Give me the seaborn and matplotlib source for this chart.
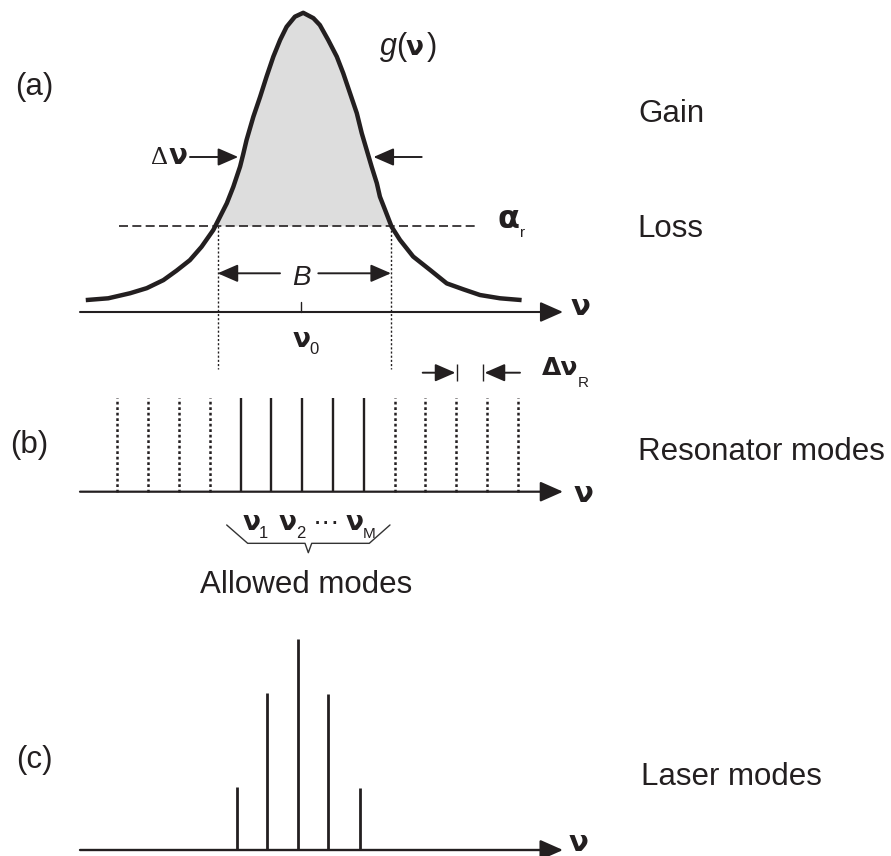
import numpy as np
import pandas as pd
import matplotlib
matplotlib.use("Agg")
import matplotlib.pyplot as plt
import seaborn as sns

# ---------------- data ----------------
# gain curve g(nu): frequency offset in units of the mode spacing, relative gain
gain_nu = [-7.03, -6.30, -5.59, -5.05, -4.51, -4.08, -3.65, -3.27, -2.89, -2.67,
           -2.45, -2.24, -2.02, -1.92, -1.81, -1.59, -1.37, -1.16, -0.94, -0.72,
           -0.51, -0.24, 0.03, 0.36, 0.57, 0.84, 1.12, 1.33, 1.55, 1.77,
           1.93, 2.09, 2.25, 2.42, 2.52, 2.69, 2.90, 3.17, 3.60, 4.15,
           4.69, 5.23, 5.77, 6.42, 7.12]
gain_g = [0.040, 0.046, 0.063, 0.080, 0.107, 0.139, 0.174, 0.219, 0.275, 0.320,
          0.365, 0.420, 0.488, 0.529, 0.577, 0.655, 0.722, 0.790, 0.857, 0.913,
          0.957, 0.991, 1.004, 0.986, 0.963, 0.913, 0.857, 0.801, 0.734, 0.667,
          0.600, 0.544, 0.488, 0.432, 0.387, 0.342, 0.286, 0.242, 0.186, 0.141,
          0.096, 0.076, 0.057, 0.046, 0.040]
loss_level = 0.289                      # alpha_r
band_edges = [-2.75, 2.88]              # B (gain above loss)
fwhm_edges = [-2.08, 2.31]              # delta nu
center_nu = -0.05                       # nu_0

# resonator modes (index in units of mode spacing)
mode_index = [-6, -5, -4, -3, -2, -1, 0, 1, 2, 3, 4, 5, 6, 7]
allowed_index = [-2, -1, 0, 1, 2]
mode_height = 1.0
spacing_marks = [5.01, 5.88]            # delta nu_R markers

# laser modes
laser_nu = [-2.13, -1.14, -0.13, 0.84, 1.87]
laser_power = [0.300, 0.744, 1.000, 0.739, 0.294]

# ---------------- layout helpers ----------------
W, H = 891, 856
K = "#231f20"
sns.set_theme(style="white")
plt.rcParams["font.family"] = ["Liberation Sans", "DejaVu Sans"]

fig = plt.figure(figsize=(W / 100, H / 100), dpi=100)
fig.patch.set_facecolor("white")

X0, XS = 302.3, 30.8
def nx(px):  # pixel column -> frequency units
    return (px - X0) / XS

def band(top, bot):
    ax = fig.add_axes([0, 1 - bot / H, 1, (bot - top) / H])
    ax.set_facecolor("none")
    ax.set_xlim(nx(0), nx(W))
    ax.set_axis_off()
    return ax

axa = band(0, 400)
axb = band(330, 620)
axc = band(620, 856)
ga = lambda py: (312 - py) / 298.0
hb = lambda py: (491.7 - py) / 93.7
ic = lambda py: (850 - py) / 211.0
axa.set_ylim(ga(400), ga(0))
axb.set_ylim(hb(620), hb(330))
axc.set_ylim(ic(856), ic(620))

def arrow(ax, x0, y0, x1, y1, lw=1.4, hl=0.62, hw=0.27):
    ax.annotate("", xy=(x1, y1), xytext=(x0, y0), xycoords="data",
                arrowprops=dict(arrowstyle=f"-|>,head_length={hl},head_width={hw}",
                                mutation_scale=20, lw=lw, color=K,
                                shrinkA=0, shrinkB=0),
                annotation_clip=False)

def ftext(x, y, s, size=22.5, ha="left", va="baseline", **kw):
    kw.setdefault("color", K)
    fig.text(x / W, 1 - y / H, s, fontsize=size, ha=ha, va=va, **kw)

NU = dict(family=["DejaVu Sans"], fontweight="bold")

# ---------------- panel (a) ----------------
g = np.array(gain_g)
axa.fill_between(gain_nu, gain_g, loss_level, where=g > loss_level,
                 interpolate=True, color="#dddddd", lw=0, zorder=1)
sns.lineplot(x=gain_nu, y=gain_g, ax=axa, color=K, lw=3.2, sort=False,
             estimator=None, legend=False, zorder=3,
             solid_joinstyle="round", solid_capstyle="butt")
axa.set_axis_off()
axa.plot([nx(119), nx(478)], [loss_level, loss_level], color=K, lw=1.2,
         ls=(0, (5.4, 2.6)), zorder=2)
for e in band_edges:
    axa.plot([e, e], [loss_level, ga(369)], color=K, lw=1.0,
             ls=(0, (1.5, 1.5)), clip_on=False, zorder=2)
axa.plot([center_nu, center_nu], [0, ga(302)], color=K, lw=1.0)
arrow(axa, nx(80), 0, nx(563), 0, lw=1.5, hl=0.7, hw=0.31)
# B arrows
arrow(axa, nx(280), ga(273.3), band_edges[0], ga(273.3))
arrow(axa, nx(318.3), ga(273.3), band_edges[1], ga(273.3))
# delta-nu arrows
arrow(axa, nx(190), ga(157), fwhm_edges[0], ga(157))
arrow(axa, nx(421.7), ga(157), fwhm_edges[1], ga(157))

# ---------------- panel (b) ----------------
allowed = [k for k in mode_index if k in allowed_index]
others = [k for k in mode_index if k not in allowed_index]
axb.vlines(allowed, 0, mode_height, color=K, lw=1.7)
axb.vlines(others, 0, mode_height, color=K, lw=1.8, linestyles=(0, (1.1, 1.1)))
arrow(axb, nx(80), 0, nx(563), 0, lw=1.6, hl=0.7, hw=0.31)
# mode spacing marker
arrow(axb, nx(422.7), hb(372.7), spacing_marks[0] - 0.04, hb(372.7))
arrow(axb, nx(520), hb(372.7), spacing_marks[1] + 0.04, hb(372.7))
axb.vlines(spacing_marks, hb(381), hb(364), color=K, lw=1.0)
# brace under allowed modes
axb.plot([-2.455, -1.773, 0.088, 0.195, 0.305, 2.175, 2.847],
         [-0.355, -0.551, -0.551, -0.651, -0.551, -0.551, -0.355],
         color="#333333", lw=1.0, clip_on=False)

# ---------------- panel (c) ----------------
axc.vlines(laser_nu, 0, laser_power, color=K, lw=2.0)
arrow(axc, nx(80), 0, nx(563), 0, lw=1.7, hl=0.7, hw=0.31)

# ---------------- text ----------------
ftext(34, 95, "(a)", ha="center")
ftext(29, 453, "(b)", ha="center")
ftext(34, 768, "(c)", ha="center")
ftext(638, 122, "Gain")
ftext(637, 237, "Loss")
ftext(638, 460, "Resonator modes")
ftext(641, 785, "Laser modes")
ftext(306, 593, "Allowed modes", ha="center")
ftext(301, 285, "B", size=20, ha="center", style="italic")

# g(nu)
ftext(380, 55, "g", size=22, style="italic")
ftext(396, 55, "(", size=22)
ftext(415, 55, "ν", size=19, ha="center", **NU)
ftext(427, 55, ")", size=22)
# alpha_r
ftext(509, 228, "α", size=23, ha="center", **NU)
ftext(520, 237, "r", size=11)
# delta nu
ftext(159, 163.5, "Δ", size=19, ha="center", family=["Liberation Serif"])
ftext(178, 163.5, "ν", size=20, ha="center", **NU)
# delta nu_R
ftext(542, 375, "Δν", size=18, ha="left", **NU)
ftext(578, 387, "R", size=11)
# nu_0
ftext(302, 347, "ν", size=19, ha="center", **NU)
ftext(314, 354, "0", size=12, ha="center")
# axis labels
ftext(580, 315, "ν", size=21, ha="center", **NU)
ftext(583, 502, "ν", size=21, ha="center", **NU)
ftext(578, 851, "ν", size=21, ha="center", **NU)
# nu_1 nu_2 ... nu_M
ftext(251.5, 530, "ν", size=19, ha="center", **NU)
ftext(263.5, 538, "1", size=12, ha="center")
ftext(288, 530, "ν", size=19, ha="center", **NU)
ftext(300.5, 538, "2", size=12, ha="center")
ftext(326, 530, "···", size=20, ha="center")
ftext(355, 530, "ν", size=19, ha="center", **NU)
ftext(369, 538, "M", size=11, ha="center")

fig.savefig("out.png", dpi=100, facecolor="white")
